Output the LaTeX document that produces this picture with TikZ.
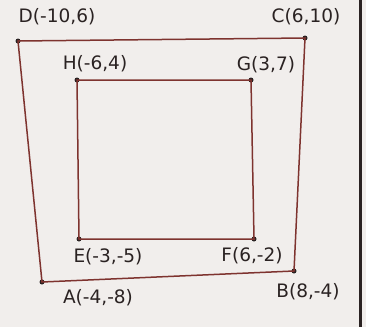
\documentclass[tikz,border=0pt]{standalone}
\usepackage{fontspec}
\setmainfont{DejaVu Sans}
\definecolor{paper}{HTML}{F1EEEC}
\definecolor{penred}{HTML}{7E332F}
\definecolor{ink}{HTML}{2A2222}
\begin{document}
\begin{tikzpicture}[x=1pt, y=-1pt,
  dot/.style={circle, fill=ink, inner sep=0pt, minimum size=5pt},
  lbl/.style={text=ink, font=\fontsize{18.5}{21}\selectfont, inner sep=0pt},
  side/.style={draw=penred, line width=1.5pt}]
\fill[paper] (0,0) rectangle (366,327);
\useasboundingbox (0,0) rectangle (366,327);
% outer quadrilateral
\node[dot] (A) at (42,282) {};
\node[dot] (B) at (294,271) {};
\node[dot] (C) at (305,38) {};
\node[dot] (D) at (18,41) {};
% inner quadrilateral
\node[dot] (E) at (79,239) {};
\node[dot] (F) at (254,239) {};
\node[dot] (G) at (251,80) {};
\node[dot] (H) at (77,80) {};
\draw[side] (A.center) -- (B.center) -- (C.center) -- (D.center) -- cycle;
\draw[side] (E.center) -- (F.center) -- (G.center) -- (H.center) -- cycle;
% labels
\node[lbl] (lA) at (98,298) {A(-4,-8)};
\node[lbl] (lB) at (308,292) {B(8,-4)};
\node[lbl] (lC) at (306,17) {C(6,10)};
\node[lbl] (lD) at (57,17) {D(-10,6)};
\node[lbl] (lE) at (108,257) {E(-3,-5)};
\node[lbl] (lF) at (252,256) {F(6,-2)};
\node[lbl] (lG) at (266,65) {G(3,7)};
\node[lbl] (lH) at (95,64) {H(-6,4)};
% page edge
\draw[ink, line width=3pt] (360,0) -- (360,327);
\end{tikzpicture}
\end{document}
